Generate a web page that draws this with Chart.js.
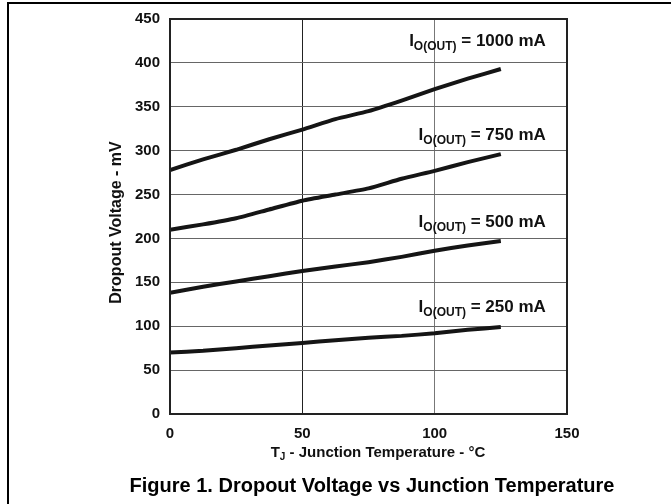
<!DOCTYPE html>
<html>
<head>
<meta charset="utf-8">
<script src="https://cdn.jsdelivr.net/npm/chart.js@4/dist/chart.umd.min.js"></script>
<style>
  html, body { margin: 0; padding: 0; background: #fff; }
  #wrap { width: 671px; height: 504px; position: relative; }
</style>
</head>
<body>
<div id="wrap"><canvas id="chart" width="671" height="504"></canvas></div>
<script>
// temperature points (°C)
const temps = [0, 12.5, 25, 37.5, 50, 62.5, 75, 87.5, 100, 112.5, 125];

// dropout voltage (mV) for each output current
const drop1000 = [278, 290, 301, 313, 324, 336, 345, 357, 370, 382, 393];
const drop750 = [210, 216, 223, 233, 243, 250, 257, 268, 277, 287, 296];
const drop500 = [138, 145, 151, 157, 163, 168, 173, 179, 186, 192, 197];
const drop250 = [70, 72, 75, 78, 81, 84, 87, 89, 92, 96, 99];

const seriesNames = ["1000 mA", "750 mA", "500 mA", "250 mA"];
const xTicks = [0, 50, 100, 150];
const yTicks = [0, 50, 100, 150, 200, 250, 300, 350, 400, 450];

// where each current label sits (right edge x, baseline y in data units)
const labelSpots = [[142, 419], [142, 312], [142, 213], [142, 116]];

const FONT = "'Liberation Sans', Arial, sans-serif";

function toPoints(ys) {
  return temps.map((t, i) => ({ x: t, y: ys[i] }));
}

const allSeries = [drop1000, drop750, drop500, drop250];

const datasets = allSeries.map((ys, i) => ({
  label: seriesNames[i],
  data: toPoints(ys),
  borderColor: "#151515",
  borderWidth: 4,
  pointRadius: 0,
  tension: 0.2,
  fill: false
}));

// frame, plot border, axis titles, curve labels, caption
const decorPlugin = {
  id: "decor",
  afterDraw(chart) {
    const ctx = chart.ctx;
    const a = chart.chartArea;
    const xs = chart.scales.x, ys = chart.scales.y;
    ctx.save();

    // outer frame (top + left only)
    ctx.strokeStyle = "#000";
    ctx.lineWidth = 2;
    ctx.beginPath();
    ctx.moveTo(671, 3);
    ctx.lineTo(8, 3);
    ctx.lineTo(8, 504);
    ctx.stroke();

    // plot box
    ctx.strokeStyle = "#222";
    ctx.lineWidth = 2;
    ctx.strokeRect(a.left, a.top, a.right - a.left, a.bottom - a.top);

    ctx.fillStyle = "#111";

    // curve labels: I + subscript O(OUT) + " = xxx mA"
    labelSpots.forEach((spot, i) => {
      const right = xs.getPixelForValue(spot[0]);
      const base = ys.getPixelForValue(spot[1]);
      const mainFont = "bold 17px " + FONT;
      const subFont = "bold 12px " + FONT;
      const rest = " = " + seriesNames[i];
      ctx.font = mainFont;
      const wI = ctx.measureText("I").width;
      const wRest = ctx.measureText(rest).width;
      ctx.font = subFont;
      const wSub = ctx.measureText("O(OUT)").width;
      let x = right - (wI + wSub + wRest);
      ctx.textAlign = "left";
      ctx.textBaseline = "alphabetic";
      ctx.font = mainFont;
      ctx.fillText("I", x, base);
      x += wI;
      ctx.font = subFont;
      ctx.fillText("O(OUT)", x, base + 4);
      x += wSub;
      ctx.font = mainFont;
      ctx.fillText(rest, x, base);
    });

    // y axis title
    ctx.save();
    ctx.translate(121, (a.top + a.bottom) / 2 + 6);
    ctx.rotate(-Math.PI / 2);
    ctx.font = "bold 16px " + FONT;
    ctx.textAlign = "center";
    ctx.textBaseline = "alphabetic";
    ctx.fillText("Dropout Voltage - mV", 0, 0);
    ctx.restore();

    // x axis title: T + subscript J + rest
    const xt1 = " - Junction Temperature - °C";
    ctx.font = "bold 15px " + FONT;
    const wT = ctx.measureText("T").width;
    const wX = ctx.measureText(xt1).width;
    ctx.font = "bold 10px " + FONT;
    const wJ = ctx.measureText("J").width;
    let tx = 378 - (wT + wJ + wX) / 2;
    ctx.textAlign = "left";
    ctx.font = "bold 15px " + FONT;
    ctx.fillText("T", tx, 457);
    tx += wT;
    ctx.font = "bold 10px " + FONT;
    ctx.fillText("J", tx, 460);
    tx += wJ;
    ctx.font = "bold 15px " + FONT;
    ctx.fillText(xt1, tx, 457);

    // caption
    ctx.font = "bold 20px " + FONT;
    ctx.textAlign = "center";
    ctx.fillStyle = "#000";
    ctx.fillText("Figure 1. Dropout Voltage vs Junction Temperature", 372, 492);

    ctx.restore();
  }
};

new Chart(document.getElementById("chart"), {
  type: "line",
  data: { datasets: datasets },
  options: {
    responsive: false,
    animation: false,
    layout: { padding: { left: 0, right: 104, top: 16, bottom: 0 } },
    plugins: { legend: { display: false }, tooltip: { enabled: false } },
    scales: {
      x: {
        type: "linear",
        min: 0,
        max: 150,
        afterFit: (s) => { s.height = 90; },
        afterBuildTicks: (s) => { s.ticks = xTicks.map(v => ({ value: v })); },
        ticks: {
          padding: 11,
          color: "#111",
          font: { family: FONT, size: 15, weight: "bold" }
        },
        grid: {
          drawTicks: false,
          color: (c) => c.tick && c.tick.value === 50 ? "#222" : "#777",
          lineWidth: 1
        },
        border: { display: false }
      },
      y: {
        min: 0,
        max: 450,
        afterFit: (s) => { s.width = 170; },
        afterBuildTicks: (s) => { s.ticks = yTicks.map(v => ({ value: v })); },
        ticks: {
          padding: 10,
          color: "#111",
          font: { family: FONT, size: 15, weight: "bold" }
        },
        grid: { drawTicks: false, color: "#666", lineWidth: 1 },
        border: { display: false }
      }
    }
  },
  plugins: [decorPlugin]
});
</script>
</body>
</html>
